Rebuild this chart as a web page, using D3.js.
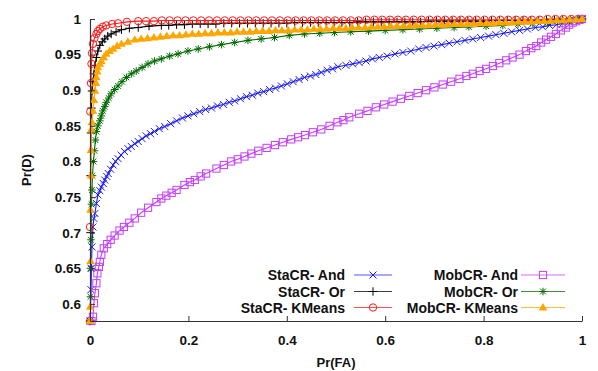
<!DOCTYPE html>
<html>
<head>
<meta charset="utf-8">
<script src="https://cdn.jsdelivr.net/npm/d3@7"></script>
<style>
  html, body { margin: 0; padding: 0; background: #fff; }
  svg { display: block; }
  text { font-family: "Liberation Sans", Arial, sans-serif; font-weight: bold; fill: #111; }
</style>
</head>
<body>
<svg id="chart" width="598" height="371"></svg>
<script>
// ---------------- data ----------------
const xTicks = [0, 0.2, 0.4, 0.6, 0.8, 1];
const yTicks = [0.6, 0.65, 0.7, 0.75, 0.8, 0.85, 0.9, 0.95, 1];
const seriesNames = ["StaCR- And", "StaCR- Or", "StaCR- KMeans", "MobCR- And", "MobCR- Or", "MobCR- KMeans"];

const staAndFA = [0,0.002,0.003,0.004,0.006,0.008,0.010,0.013,0.016,0.020,0.023,0.027,0.030,0.034,0.037,0.042,0.047,0.052,0.057,0.063,0.070,0.077,0.084,0.091,0.098,0.106,0.114,0.123,0.131,0.141,0.152,0.164,0.176,0.188,0.199,0.211,0.223,0.235,0.247,0.259,0.271,0.283,0.294,0.306,0.318,0.330,0.341,0.353,0.365,0.377,0.389,0.401,0.413,0.425,0.436,0.448,0.459,0.470,0.482,0.493,0.504,0.520,0.534,0.547,0.561,0.574,0.588,0.604,0.620,0.636,0.652,0.668,0.683,0.699,0.715,0.730,0.746,0.762,0.778,0.794,0.810,0.825,0.841,0.857,0.873,0.889,0.905,0.920,0.934,0.948,0.961,0.974,0.985,0.995,1.0];
const staAndPD = [0.576,0.62,0.65,0.68,0.708,0.72,0.727,0.741,0.753,0.759,0.764,0.769,0.774,0.779,0.783,0.789,0.795,0.800,0.804,0.809,0.814,0.818,0.821,0.825,0.828,0.832,0.836,0.839,0.842,0.846,0.849,0.853,0.857,0.861,0.864,0.867,0.870,0.873,0.875,0.878,0.880,0.883,0.885,0.888,0.891,0.893,0.896,0.898,0.901,0.903,0.906,0.909,0.912,0.915,0.918,0.920,0.922,0.925,0.928,0.930,0.933,0.935,0.937,0.939,0.941,0.944,0.946,0.948,0.951,0.953,0.955,0.958,0.960,0.962,0.964,0.966,0.968,0.970,0.972,0.974,0.976,0.978,0.980,0.982,0.984,0.986,0.988,0.989,0.991,0.992,0.994,0.996,0.998,0.999,1.0];

const staOrFA = [0,0.001,0.001,0.002,0.003,0.004,0.006,0.008,0.010,0.013,0.016,0.020,0.025,0.030,0.036,0.043,0.053,0.064,0.080,0.098,0.120,0.145,0.160,0.176,0.192,0.208,0.224,0.240,0.256,0.272,0.288,0.304,0.320,0.336,0.352,0.368,0.384,0.400,0.416,0.432,0.448,0.464,0.480,0.496,0.512,0.528,0.544,0.560,0.576,0.592,0.608,0.624,0.640,0.656,0.672,0.688,0.704,0.720,0.736,0.752,0.768,0.784,0.800,0.816,0.832,0.848,0.864,0.880,0.896,0.912,0.928,0.944,0.960,0.976,0.992,1.0];
const staOrPD = [0.576,0.70,0.78,0.84,0.875,0.899,0.912,0.923,0.935,0.946,0.955,0.963,0.968,0.972,0.976,0.979,0.982,0.985,0.987,0.988,0.990,0.991,0.991,0.992,0.992,0.993,0.993,0.993,0.993,0.994,0.994,0.994,0.994,0.994,0.994,0.994,0.994,0.994,0.995,0.995,0.995,0.995,0.995,0.995,0.995,0.995,0.996,0.996,0.996,0.996,0.996,0.996,0.996,0.996,0.996,0.997,0.997,0.997,0.997,0.997,0.997,0.997,0.997,0.998,0.998,0.998,0.998,0.998,0.998,0.998,0.999,0.999,0.999,0.999,1.0,1.0];

const staKmFA = [0,0,0.0005,0.002,0.003,0.004,0.006,0.009,0.013,0.016,0.020,0.026,0.033,0.045,0.057,0.075,0.098,0.114,0.130,0.146,0.162,0.178,0.194,0.210,0.226,0.242,0.258,0.274,0.290,0.306,0.322,0.338,0.354,0.370,0.386,0.402,0.418,0.434,0.450,0.466,0.482,0.498,0.514,0.530,0.546,0.562,0.578,0.594,0.610,0.626,0.642,0.658,0.674,0.690,0.706,0.722,0.738,0.754,0.770,0.786,0.802,0.818,0.834,0.850,0.866,0.882,0.898,0.914,0.930,0.946,0.962,0.978,0.992,1.0];
const staKmPD = [0.576,0.708,0.87,0.91,0.937,0.952,0.965,0.973,0.979,0.983,0.986,0.989,0.991,0.993,0.994,0.996,0.997,0.997,0.997,0.998,0.998,0.998,0.998,0.998,0.998,0.998,0.998,0.998,0.998,0.998,0.998,0.998,0.998,0.998,0.998,0.998,0.998,0.998,0.998,0.998,0.998,0.998,0.998,0.998,0.998,0.999,0.999,0.999,0.999,0.999,0.999,0.999,0.999,0.999,0.999,0.999,0.999,0.999,0.999,0.999,0.999,0.999,0.999,0.999,0.999,0.999,0.999,0.999,1.0,1.0,1.0,1.0,1.0,1.0];

const mobAndFA = [0.003,0.006,0.008,0.010,0.013,0.015,0.018,0.020,0.023,0.028,0.035,0.042,0.050,0.060,0.069,0.080,0.091,0.104,0.118,0.135,0.145,0.155,0.166,0.176,0.192,0.203,0.213,0.225,0.236,0.257,0.272,0.287,0.300,0.314,0.328,0.342,0.359,0.376,0.392,0.409,0.423,0.437,0.453,0.470,0.487,0.503,0.515,0.527,0.547,0.564,0.581,0.598,0.615,0.632,0.649,0.666,0.683,0.700,0.717,0.734,0.751,0.765,0.778,0.792,0.805,0.819,0.832,0.846,0.859,0.873,0.886,0.897,0.907,0.917,0.927,0.937,0.947,0.957,0.967,0.974,0.981,0.988,0.995,1.0];
const mobAndPD = [0.576,0.582,0.601,0.615,0.629,0.643,0.652,0.659,0.669,0.678,0.684,0.690,0.696,0.703,0.708,0.714,0.720,0.728,0.735,0.743,0.748,0.752,0.756,0.760,0.767,0.771,0.774,0.779,0.783,0.790,0.795,0.800,0.803,0.807,0.811,0.815,0.819,0.823,0.827,0.831,0.834,0.837,0.841,0.845,0.850,0.855,0.858,0.862,0.867,0.871,0.876,0.880,0.884,0.888,0.892,0.896,0.900,0.904,0.908,0.912,0.916,0.920,0.923,0.927,0.930,0.934,0.938,0.942,0.946,0.950,0.955,0.959,0.962,0.967,0.971,0.975,0.979,0.984,0.988,0.992,0.995,0.997,0.999,1.0];

const mobOrFA = [0,0.001,0.001,0.002,0.003,0.004,0.005,0.007,0.009,0.011,0.013,0.016,0.020,0.023,0.026,0.030,0.033,0.038,0.043,0.050,0.057,0.065,0.074,0.084,0.094,0.106,0.118,0.131,0.145,0.162,0.179,0.199,0.220,0.243,0.267,0.294,0.321,0.348,0.375,0.405,0.436,0.467,0.497,0.530,0.566,0.600,0.636,0.670,0.705,0.740,0.770,0.805,0.839,0.870,0.900,0.930,0.955,0.975,0.990,1.0];
const mobOrPD = [0.576,0.61,0.65,0.69,0.74,0.76,0.78,0.800,0.815,0.830,0.842,0.850,0.857,0.864,0.871,0.877,0.883,0.889,0.895,0.901,0.906,0.912,0.918,0.923,0.927,0.932,0.937,0.941,0.944,0.948,0.951,0.955,0.958,0.961,0.964,0.967,0.970,0.972,0.974,0.977,0.979,0.980,0.981,0.982,0.983,0.984,0.985,0.986,0.987,0.988,0.989,0.990,0.991,0.993,0.994,0.995,0.997,0.998,0.999,1.0];

const mobKmFA = [0,0.0005,0.001,0.001,0.002,0.002,0.003,0.004,0.006,0.008,0.010,0.012,0.013,0.015,0.016,0.020,0.023,0.028,0.033,0.040,0.047,0.055,0.064,0.077,0.091,0.104,0.117,0.130,0.143,0.156,0.169,0.182,0.195,0.208,0.221,0.234,0.247,0.260,0.273,0.286,0.299,0.312,0.325,0.338,0.351,0.364,0.377,0.390,0.403,0.416,0.429,0.442,0.455,0.468,0.481,0.494,0.507,0.520,0.533,0.546,0.559,0.572,0.585,0.598,0.611,0.624,0.637,0.650,0.663,0.676,0.689,0.702,0.715,0.728,0.741,0.754,0.767,0.780,0.793,0.806,0.819,0.832,0.845,0.858,0.871,0.884,0.897,0.910,0.923,0.936,0.949,0.962,0.975,0.988,1.0];
const mobKmPD = [0.576,0.596,0.66,0.732,0.78,0.816,0.845,0.855,0.871,0.886,0.899,0.910,0.918,0.926,0.932,0.937,0.941,0.946,0.951,0.955,0.958,0.962,0.965,0.968,0.971,0.972,0.973,0.974,0.975,0.976,0.977,0.977,0.978,0.979,0.979,0.980,0.980,0.981,0.981,0.981,0.982,0.982,0.982,0.983,0.983,0.983,0.984,0.984,0.984,0.985,0.985,0.985,0.986,0.986,0.986,0.987,0.987,0.987,0.988,0.988,0.988,0.989,0.989,0.989,0.990,0.990,0.990,0.990,0.991,0.991,0.991,0.992,0.992,0.992,0.993,0.993,0.993,0.993,0.994,0.994,0.994,0.995,0.995,0.995,0.996,0.996,0.996,0.997,0.997,0.997,0.998,0.998,0.999,0.999,1.0];

// ---------------- styles ----------------
const series = [
  {name: seriesNames[0], fa: staAndFA, pd: staAndPD, color: "#1a1aff", marker: "x"},
  {name: seriesNames[1], fa: staOrFA,  pd: staOrPD,  color: "#000000", marker: "plus"},
  {name: seriesNames[2], fa: staKmFA,  pd: staKmPD,  color: "#ff1a1a", marker: "circle"},
  {name: seriesNames[3], fa: mobAndFA, pd: mobAndPD, color: "#c43cff", marker: "square"},
  {name: seriesNames[4], fa: mobOrFA,  pd: mobOrPD,  color: "#006a00", marker: "star"},
  {name: seriesNames[5], fa: mobKmFA,  pd: mobKmPD,  color: "#ffa500", marker: "triangle"}
];

const svg = d3.select("#chart");
const x = d3.scaleLinear().domain([0, 1]).range([90, 582]);
const y = d3.scaleLinear().domain([0.576, 1]).range([321, 19]);

svg.append("clipPath").attr("id", "plotclip").append("rect")
  .attr("x", 90).attr("y", 15).attr("width", 496).attr("height", 307);

function drawMarker(g, type, cx, cy, color) {
  const s = 3.5;
  if (type === "x") {
    g.append("path").attr("d", `M${cx-s},${cy-s}L${cx+s},${cy+s}M${cx-s},${cy+s}L${cx+s},${cy-s}`)
      .attr("stroke", color).attr("stroke-width", 1).attr("fill", "none");
  } else if (type === "plus") {
    g.append("path").attr("d", `M${cx-4.2},${cy}L${cx+4.2},${cy}M${cx},${cy-4.2}L${cx},${cy+4.2}`)
      .attr("stroke", color).attr("stroke-width", 1).attr("fill", "none");
  } else if (type === "circle") {
    g.append("circle").attr("cx", cx).attr("cy", cy).attr("r", 3.7)
      .attr("stroke", color).attr("stroke-width", 1).attr("fill", "none");
  } else if (type === "square") {
    g.append("rect").attr("x", cx-3.6).attr("y", cy-3.6).attr("width", 7.2).attr("height", 7.2)
      .attr("stroke", color).attr("stroke-width", 1).attr("fill", "none");
  } else if (type === "star") {
    const d = 2.9;
    g.append("path").attr("d", `M${cx-3.8},${cy}L${cx+3.8},${cy}M${cx},${cy-3.8}L${cx},${cy+3.8}M${cx-d},${cy-d}L${cx+d},${cy+d}M${cx-d},${cy+d}L${cx+d},${cy-d}`)
      .attr("stroke", color).attr("stroke-width", 1).attr("fill", "none");
  } else if (type === "triangle") {
    g.append("path").attr("d", `M${cx},${cy-4.5}L${cx+4.3},${cy+2.9}L${cx-4.3},${cy+2.9}Z`)
      .attr("fill", color).attr("stroke", "none");
  }
}

const line = d3.line().x(d => x(d[0])).y(d => y(d[1]));
const plot = svg.append("g");
series.forEach(s => {
  const pts = s.fa.map((f, i) => [f, s.pd[i]]);
  const g = plot.append("g");
  g.append("path").datum(pts).attr("d", line).attr("clip-path", "url(#plotclip)")
    .attr("fill", "none").attr("stroke", s.color).attr("stroke-width", 1.1);
  pts.filter(p => p[1] >= y.domain()[0] - 0.001).forEach(p => drawMarker(g, s.marker, x(p[0]), y(p[1]), s.color));
});

// axes (ticks point inward, gnuplot style)
const axisColor = "#333";
const yAxis = svg.append("g").attr("transform", "translate(90,0)")
  .call(d3.axisLeft(y).tickValues(yTicks).tickFormat(d3.format("")).tickSizeInner(-5).tickSizeOuter(0).tickPadding(9));
const xAxis = svg.append("g").attr("transform", "translate(0,321)")
  .call(d3.axisBottom(x).tickValues(xTicks).tickFormat(d3.format("")).tickSizeInner(-5).tickSizeOuter(0).tickPadding(14));
[yAxis, xAxis].forEach(a => {
  a.select(".domain").attr("stroke", axisColor).attr("stroke-width", 1.2);
  a.selectAll(".tick line").attr("stroke", axisColor);
  a.selectAll(".tick text").style("font-size", "13.5px").style("font-family", '"Liberation Sans", Arial, sans-serif').style("font-weight", "bold").attr("fill", "#111");
});

svg.append("text").attr("transform", "translate(31,170) rotate(-90)").attr("text-anchor", "middle")
  .style("font-size", "13px").text("Pr(D)");
svg.append("text").attr("x", 336).attr("y", 367).attr("text-anchor", "middle")
  .style("font-size", "13px").text("Pr(FA)");

// legend
const legCols = [{textX: 345, l0: 354, l1: 392}, {textX: 518, l0: 521, l1: 565}];
const legRows = [275, 291.5, 307.5];
series.forEach((s, i) => {
  const c = legCols[Math.floor(i / 3)], ry = legRows[i % 3];
  const g = svg.append("g");
  g.append("text").attr("x", c.textX).attr("y", ry + 5).attr("text-anchor", "end")
    .style("font-size", "14px").text(s.name);
  g.append("line").attr("x1", c.l0).attr("x2", c.l1).attr("y1", ry).attr("y2", ry)
    .attr("stroke", s.color).attr("stroke-width", 1.2).attr("stroke-opacity", 0.75);
  drawMarker(g, s.marker, (c.l0 + c.l1) / 2, ry, s.color);
});
</script>
</body>
</html>
